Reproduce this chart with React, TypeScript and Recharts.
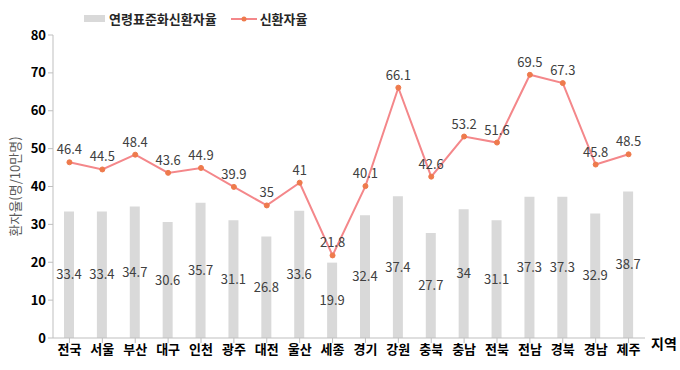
import React from 'react';
import { ComposedChart, Bar, Line, XAxis, YAxis, LabelList } from 'recharts';

const regions = ['전국', '서울', '부산', '대구', '인천', '광주', '대전', '울산', '세종', '경기', '강원', '충북', '충남', '전북', '전남', '경북', '경남', '제주'];
const ageStdRate = [33.4, 33.4, 34.7, 30.6, 35.7, 31.1, 26.8, 33.6, 19.9, 32.4, 37.4, 27.7, 34, 31.1, 37.3, 37.3, 32.9, 38.7];
const newRate = [46.4, 44.5, 48.4, 43.6, 44.9, 39.9, 35, 41, 21.8, 40.1, 66.1, 42.6, 53.2, 51.6, 69.5, 67.3, 45.8, 48.5];
const yTicks = [0, 10, 20, 30, 40, 50, 60, 70, 80];

const FONT = '"Noto Sans CJK KR", "Noto Sans", sans-serif';
const BAR_COLOR = '#d9d9d9';
const LINE_COLOR = '#f4878a';
const DOT_COLOR = '#ee7a4c';
const AXIS_COLOR = '#bfbfbf';

const data = regions.map((name, i) => ({ name, ageStd: ageStdRate[i], rate: newRate[i] }));

// eslint-disable-next-line @typescript-eslint/no-explicit-any
const XAxisTitle = (props: any) => {
    const vb = props.viewBox;
    return (
        <text x={vb.x + vb.width + 6} y={vb.y + 6} dy={5} fill="#000" fontFamily={FONT} fontWeight={700} fontSize={14}>
            지역
        </text>
    );
};

// eslint-disable-next-line @typescript-eslint/no-explicit-any
const YAxisTitle = (props: any) => {
    const vb = props.viewBox;
    const cx = 14;
    const cy = vb.y + vb.height / 2;
    return (
        <text x={cx} y={cy} transform={`rotate(-90, ${cx}, ${cy})`} textAnchor="middle" dominantBaseline="central" fill="#595959" fontFamily={FONT} fontSize={13}>
            환자율(명/10만명)
        </text>
    );
};

export default function App() {
    return (
        <div style={{ position: 'absolute', left: 0, top: 0, width: 680, height: 370, background: '#fff', fontFamily: FONT }}>
            {/* legend */}
            <div style={{ position: 'absolute', left: 84, top: 9, display: 'flex', alignItems: 'center', fontSize: 13, fontWeight: 700, color: '#262626', zIndex: 2 }}>
                <span style={{ display: 'inline-block', width: 21, height: 7, background: BAR_COLOR, marginRight: 4 }} />
                <span>연령표준화신환자율</span>
                <svg width={26} height={10} style={{ marginLeft: 14, marginRight: 3 }}>
                    <line x1={0} y1={5} x2={26} y2={5} stroke={LINE_COLOR} strokeWidth={2} />
                    <circle cx={13} cy={5} r={2.5} fill={DOT_COLOR} />
                </svg>
                <span>신환자율</span>
            </div>
            <ComposedChart width={680} height={370} data={data} margin={{ top: 35, right: 35, left: 0, bottom: 4 }}>
                <XAxis
                    dataKey="name"
                    height={28}
                    stroke={AXIS_COLOR}
                    tickLine={{ stroke: AXIS_COLOR }}
                    tickSize={5}
                    tick={{ fill: '#000', fontSize: 13, fontWeight: 700, fontFamily: FONT }}
                    interval={0}
                    label={<XAxisTitle />}
                />
                <YAxis
                    width={53}
                    domain={[0, 80]}
                    ticks={yTicks}
                    stroke={AXIS_COLOR}
                    tickSize={5}
                    tick={{ fill: '#000', fontSize: 13, fontWeight: 700, fontFamily: FONT }}
                    label={<YAxisTitle />}
                />
                <Bar dataKey="ageStd" fill={BAR_COLOR} barSize={10} isAnimationActive={false}>
                    <LabelList dataKey="ageStd" position="center" fill="#404040" fontSize={13} fontFamily={FONT} />
                </Bar>
                <Line
                    dataKey="rate"
                    stroke={LINE_COLOR}
                    strokeWidth={2}
                    dot={{ r: 2.5, fill: DOT_COLOR, stroke: DOT_COLOR, strokeWidth: 1 }}
                    isAnimationActive={false}
                >
                    <LabelList dataKey="rate" position="top" offset={8} fill="#404040" fontSize={13} fontFamily={FONT} />
                </Line>
            </ComposedChart>
        </div>
    );
}
